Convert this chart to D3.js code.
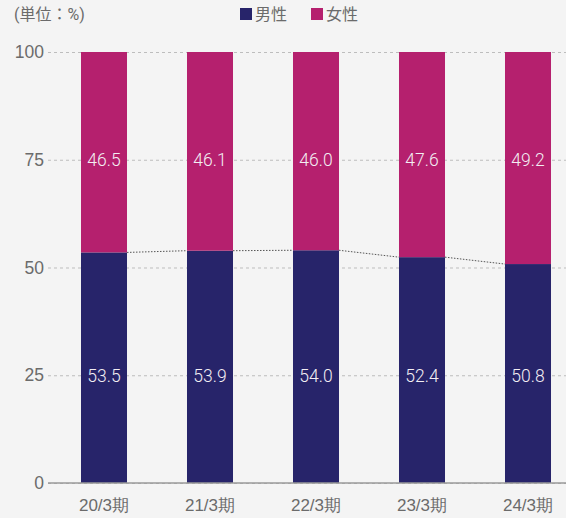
<!DOCTYPE html>
<html>
<head>
<meta charset="utf-8">
<script src="https://cdn.jsdelivr.net/npm/d3@7"></script>
<style>
  html, body { margin: 0; padding: 0; background: #f4f4f4; }
  svg { display: block; font-family: Roboto, "Noto Sans CJK JP", sans-serif; }
</style>
</head>
<body>
<svg id="chart" width="566" height="518"></svg>
<script>
// Fiscal periods and gender share (%)
const periods = ["20/3期", "21/3期", "22/3期", "23/3期", "24/3期"];
const male = [53.5, 53.9, 54.0, 52.4, 50.8];
const female = [46.5, 46.1, 46.0, 47.6, 49.2];
const yTicks = [0, 25, 50, 75, 100];
const seriesNames = ["男性", "女性"];
const unitLabel = "(単位：%)";

const colors = { male: "#27246a", female: "#b5206e" };

const svg = d3.select("#chart");

const x = d3.scaleBand()
  .domain(periods)
  .range([51, 581])
  .paddingInner(0.566)
  .paddingOuter(0.283);

const y = d3.scaleLinear().domain([0, 100]).range([483, 52]);

// Dashed gridlines with left tick labels
const yAxis = d3.axisLeft(y)
  .tickValues(yTicks)
  .tickSize(-(566 - 48))
  .tickPadding(4)
  .tickFormat(d3.format("d"));

const gy = svg.append("g")
  .attr("transform", "translate(48,0)")
  .call(yAxis);
gy.select(".domain").remove();
gy.selectAll(".tick line")
  .attr("stroke", "#bdbdbd")
  .attr("stroke-width", 1)
  .attr("stroke-dasharray", "3,3");
gy.selectAll(".tick text")
  .attr("fill", "#6b6b6b")
  .attr("font-size", 17.5)
  .attr("font-weight", 300);

// Stacked bars
const g = svg.append("g");
periods.forEach((p, i) => {
  g.append("rect")
    .attr("x", x(p))
    .attr("width", x.bandwidth())
    .attr("y", y(male[i]))
    .attr("height", y(0) - y(male[i]))
    .attr("fill", colors.male);
  g.append("rect")
    .attr("x", x(p))
    .attr("width", x.bandwidth())
    .attr("y", y(male[i] + female[i]))
    .attr("height", y(male[i]) - y(male[i] + female[i]))
    .attr("fill", colors.female);
});

// Dotted connectors between male segment tops
for (let i = 0; i < periods.length - 1; i++) {
  g.append("line")
    .attr("x1", x(periods[i]) + x.bandwidth())
    .attr("y1", y(male[i]))
    .attr("x2", x(periods[i + 1]))
    .attr("y2", y(male[i + 1]))
    .attr("stroke", "#555")
    .attr("stroke-width", 1)
    .attr("stroke-dasharray", "1.5,1.5");
}

// Value labels inside the bars
const lbl = svg.append("g")
  .attr("text-anchor", "middle")
  .attr("font-size", 17.5)
  .attr("font-weight", 300)
  .attr("fill", "#f3eef3");
periods.forEach((p, i) => {
  lbl.append("text")
    .attr("x", x(p) + x.bandwidth() / 2)
    .attr("y", y(25))
    .attr("dy", "0.36em")
    .text(male[i].toFixed(1));
  lbl.append("text")
    .attr("x", x(p) + x.bandwidth() / 2)
    .attr("y", y(75))
    .attr("dy", "0.36em")
    .text(female[i].toFixed(1));
});

// Baseline axis
svg.append("line")
  .attr("x1", 48).attr("x2", 566)
  .attr("y1", y(0)).attr("y2", y(0))
  .attr("stroke", "#9a9a9a")
  .attr("stroke-width", 1.5);

// Category labels
const xAxis = d3.axisBottom(x).tickSize(0).tickPadding(0);
const gx = svg.append("g")
  .attr("transform", `translate(0,${y(0)})`)
  .call(xAxis);
gx.select(".domain").remove();
gx.selectAll(".tick text")
  .attr("y", 28)
  .attr("dy", 0)
  .attr("fill", "#6b6b6b")
  .attr("font-size", 17)
  .attr("font-weight", 300);

// Unit note
svg.append("text")
  .attr("x", 14).attr("y", 20)
  .attr("fill", "#6b6b6b")
  .attr("font-size", 16)
  .text(unitLabel);

// Legend
const legendX = [240, 311];
const legendColors = [colors.male, colors.female];
seriesNames.forEach((name, i) => {
  svg.append("rect")
    .attr("x", legendX[i]).attr("y", 8)
    .attr("width", 12).attr("height", 12)
    .attr("fill", legendColors[i]);
  svg.append("text")
    .attr("x", legendX[i] + 15).attr("y", 20)
    .attr("fill", "#6b6b6b")
    .attr("font-size", 16)
    .text(name);
});
</script>
</body>
</html>
